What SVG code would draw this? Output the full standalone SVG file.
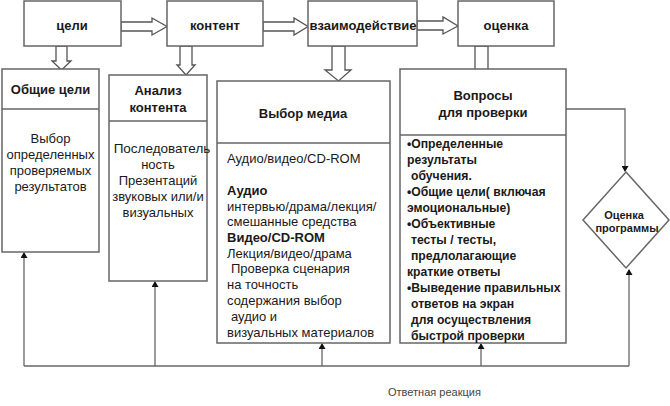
<svg xmlns="http://www.w3.org/2000/svg" width="670" height="406" viewBox="0 0 670 406">
<defs>
<style>
.box{fill:#fff;stroke:#666;stroke-width:1.5}
.div{stroke:#666;stroke-width:1.3}
.blk{fill:#fff;stroke:#555;stroke-width:1.3;stroke-linejoin:miter}
.ln{fill:none;stroke:#666;stroke-width:1.3}
text{font-family:"Liberation Sans",Arial,sans-serif;fill:#1a1a1a}
.t{font-size:13px;font-weight:bold}
.b{font-size:13px}
.bb{font-size:13px;font-weight:bold}
.q{font-size:12.2px;font-weight:bold}
.c{text-anchor:middle}
.d{font-size:11px;font-weight:bold}
.fb{font-size:11px;fill:#444}
</style>
<marker id="ah" markerWidth="6" markerHeight="7" refX="5" refY="3.5" orient="auto" markerUnits="userSpaceOnUse">
<path d="M0,0 L6,3.5 L0,7 Z" fill="#111"/>
</marker>
</defs>
<rect width="670" height="406" fill="#fff"/>

<g id="connectors">
<path class="blk" d="M121,22 H152 V18 L167,26.5 L152,35 V31 H121 Z"/>
<path class="blk" d="M263,22 H294 V18 L308,26.5 L294,35 V31 H263 Z"/>
<path class="blk" d="M417,21 H443 V17 L458,26 L443,34 V30 H417 Z"/>
<path class="blk" d="M56,46 V61 H52 L61.5,70 L71,61 H67 V46 Z"/>
<path class="blk" d="M180,46 V65 H177 L186,75 L195,65 H192 V46 Z"/>
<path class="blk" d="M332,46 V70 H325 L338.5,81 L351,70 H345 V46 Z"/>
<path class="blk" d="M475,46 V70 H468 L481.5,80 L494,70 H488 V46 Z"/>
<path class="ln" d="M566,109 H625 V171" marker-end="url(#ah)"/>
<path class="ln" d="M24,366 H629"/>
<path class="ln" d="M24,366 V253" marker-end="url(#ah)"/>
<path class="ln" d="M155,366 V282" marker-end="url(#ah)"/>
<path class="ln" d="M322,366 V344" marker-end="url(#ah)"/>
<path class="ln" d="M481,366 V344" marker-end="url(#ah)"/>
<path class="ln" d="M629,366 V270" marker-end="url(#ah)"/>
</g>

<g id="n-celi">
<rect class="box" x="24" y="1" width="97" height="45"/>
<text class="t c" x="72" y="30">цели</text>
</g>
<g id="n-kontent">
<rect class="box" x="167" y="1" width="96" height="45"/>
<text class="t c" x="215" y="30">контент</text>
</g>
<g id="n-vzaim">
<rect class="box" x="308" y="1" width="109" height="45"/>
<text class="t c" x="363" y="30">взаимодействие</text>
</g>
<g id="n-ocenka">
<rect class="box" x="458" y="1" width="96" height="45"/>
<text class="t c" x="506" y="30">оценка</text>
</g>

<g id="n-obshie">
<rect class="box" x="2" y="69" width="97" height="183"/>
<line class="div" x1="2" y1="109" x2="99" y2="109"/>
<text class="t c" x="50.5" y="94">Общие цели</text>
<text class="b c" x="50.5" y="143">Выбор</text>
<text class="b c" x="50.5" y="159">определенных</text>
<text class="b c" x="50.5" y="175">проверяемых</text>
<text class="b c" x="50.5" y="191">результатов</text>
</g>

<g id="n-analiz">
<rect class="box" x="109" y="75" width="98" height="206"/>
<line class="div" x1="109" y1="121" x2="207" y2="121"/>
<text class="t c" x="158" y="95">Анализ</text>
<text class="t c" x="158" y="112">контента</text>
<text class="b c" x="162" y="153" style="font-size:13.5px">Последователь</text>
<text class="b c" x="158" y="169">ность</text>
<text class="b c" x="158" y="185">Презентаций</text>
<text class="b c" x="158" y="201">звуковых или/и</text>
<text class="b c" x="158" y="217">визуальных</text>
</g>

<g id="n-media">
<rect class="box" x="217" y="81" width="173" height="262"/>
<line class="div" x1="217" y1="143" x2="390" y2="143"/>
<text class="t c" x="303" y="118">Выбор медиа</text>
<text class="b" x="227" y="163">Аудио/видео/CD-ROM</text>
<text class="bb" x="227" y="195">Аудио</text>
<text class="b" x="227" y="211">интервью/драма/лекция/</text>
<text class="b" x="227" y="226">смешанные средства</text>
<text class="bb" x="227" y="242">Видео/CD-ROM</text>
<text class="b" x="227" y="258">Лекция/видео/драма</text>
<text class="b" x="231" y="273">Проверка сценария</text>
<text class="b" x="227" y="289">на точность</text>
<text class="b" x="227" y="305">содержания выбор</text>
<text class="b" x="231" y="321">аудио и</text>
<text class="b" x="227" y="337">визуальных материалов</text>
</g>

<g id="n-voprosy">
<rect class="box" x="400" y="69" width="166" height="274"/>
<line class="div" x1="400" y1="135" x2="566" y2="135"/>
<text class="t c" x="483" y="100">Вопросы</text>
<text class="t c" x="483" y="117">для проверки</text>
<text class="q" x="407" y="148">•Определенные</text>
<text class="q" x="407" y="164">результаты</text>
<text class="q" x="411" y="180">обучения.</text>
<text class="q" x="407" y="196">•Общие цели( включая</text>
<text class="q" x="407" y="212">эмоциональные)</text>
<text class="q" x="407" y="228">•Объективные</text>
<text class="q" x="411" y="244">тесты / тесты,</text>
<text class="q" x="411" y="260">предлолагающие</text>
<text class="q" x="407" y="276">краткие ответы</text>
<text class="q" x="407" y="292">•Выведение правильных</text>
<text class="q" x="411" y="308">ответов на экран</text>
<text class="q" x="411" y="324">для осуществления</text>
<text class="q" x="411" y="340">быстрой проверки</text>
</g>

<g id="n-ocenka-prog">
<polygon class="box" points="626,172 669,220 626,268 583,220"/>
<text class="d c" x="624" y="219">Оценка</text>
<text class="d c" x="627" y="232">программы</text>
</g>

<text class="fb" x="388" y="396">Ответная реакция</text>
</svg>
